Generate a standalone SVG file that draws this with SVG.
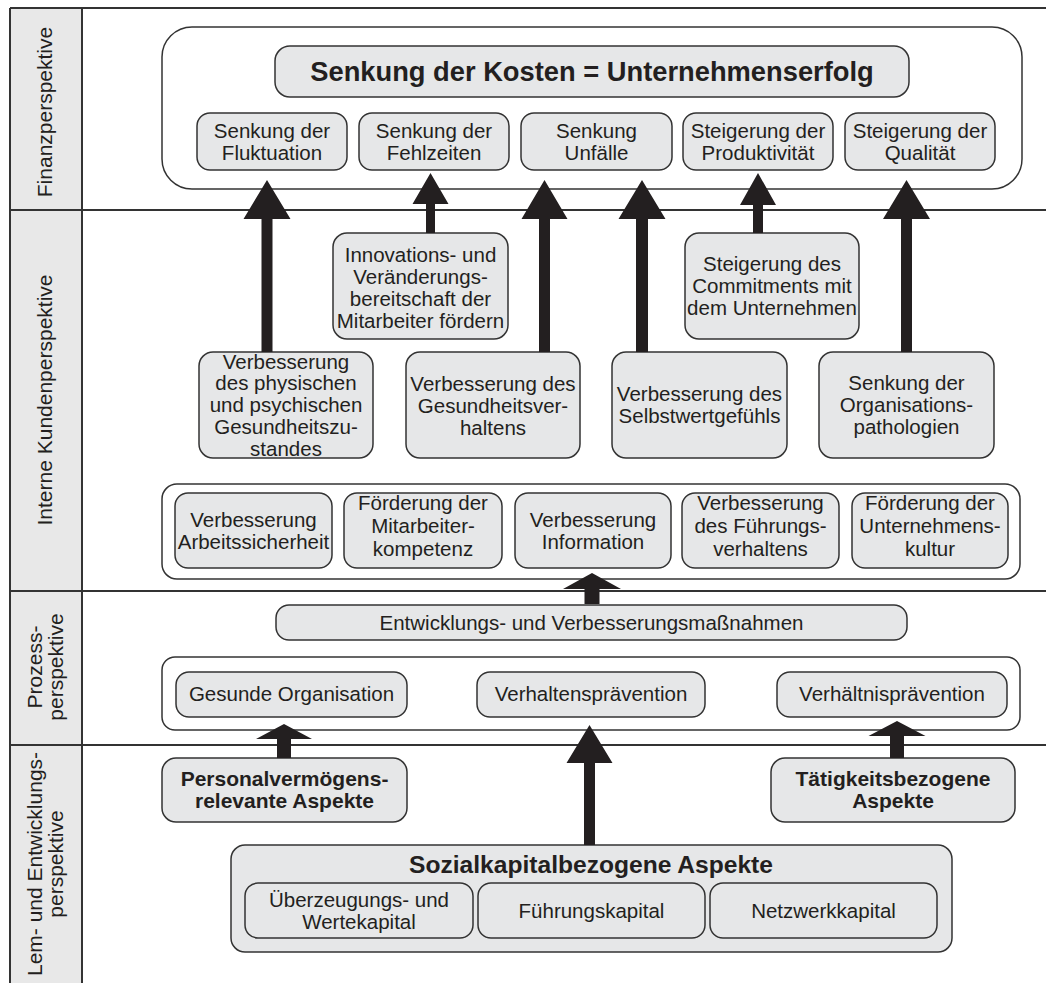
<svg xmlns="http://www.w3.org/2000/svg" width="1046" height="983" viewBox="0 0 1046 983">
<style>
  text { font-family: "Liberation Sans", Arial, sans-serif; fill: #231f20; }
  .t { font-size: 20.5px; text-anchor: middle; }
  .b { font-size: 21px; font-weight: bold; text-anchor: middle; }
  .lbl { font-size: 21px; text-anchor: middle; }
  .box { fill: #e6e7e8; stroke: #333; stroke-width: 1.5; }
  .cont { fill: #fff; stroke: #333; stroke-width: 1.5; }
  .band { stroke: #333; stroke-width: 2; fill: none; }
  .arrow { fill: #231f20; stroke: none; }
</style>
<rect x="0" y="0" width="1046" height="983" fill="#fff"/>
<g id="frame">
  <rect x="10" y="8" width="72" height="975" fill="#e8e8e8"/>
  <line class="band" x1="10" y1="8" x2="1046" y2="8"/>
  <line class="band" x1="10" y1="210" x2="1046" y2="210"/>
  <line class="band" x1="10" y1="591" x2="1046" y2="591"/>
  <line class="band" x1="10" y1="745" x2="1046" y2="745"/>
  <line class="band" x1="10" y1="8" x2="10" y2="983"/>
  <line class="band" x1="82" y1="8" x2="82" y2="983"/>
</g>
<g id="labels">
  <text class="lbl" transform="translate(52,112) rotate(-90)">Finanzperspektive</text>
  <text class="lbl" transform="translate(52,400) rotate(-90)">Interne Kundenperspektive</text>
  <text class="lbl" transform="translate(42,667) rotate(-90)">Prozess-</text>
  <text class="lbl" transform="translate(63,667) rotate(-90)">perspektive</text>
  <text class="lbl" transform="translate(42,864) rotate(-90)">Lem- und Entwicklungs-</text>
  <text class="lbl" transform="translate(63,864) rotate(-90)">perspektive</text>
</g>

<g id="finance-container"><rect class="cont" x="162" y="27" width="860" height="162" rx="30"/></g>
<g id="title"><rect class="box" x="275" y="46" width="634" height="51" rx="15"/>
  <text x="592" y="81" style="font-size:27.3px;font-weight:bold;text-anchor:middle">Senkung der Kosten = Unternehmenserfolg</text></g>
<g id="f1"><rect class="box" x="197" y="113" width="150" height="57" rx="13"/>
  <text class="t" x="272" y="138">Senkung der</text><text class="t" x="272" y="160">Fluktuation</text></g>
<g id="f2"><rect class="box" x="359" y="113" width="150" height="57" rx="13"/>
  <text class="t" x="434" y="138">Senkung der</text><text class="t" x="434" y="160">Fehlzeiten</text></g>
<g id="f3"><rect class="box" x="521" y="113" width="151" height="57" rx="13"/>
  <text class="t" x="596.5" y="138">Senkung</text><text class="t" x="596.5" y="160">Unfälle</text></g>
<g id="f4"><rect class="box" x="683" y="113" width="150" height="57" rx="13"/>
  <text class="t" x="758" y="138">Steigerung der</text><text class="t" x="758" y="160">Produktivität</text></g>
<g id="f5"><rect class="box" x="845" y="113" width="150" height="57" rx="13"/>
  <text class="t" x="920" y="138">Steigerung der</text><text class="t" x="920" y="160">Qualität</text></g>

<g id="innovation"><rect class="box" x="333" y="233" width="175" height="106" rx="14"/>
  <text class="t" x="420.5" y="262">Innovations- und</text>
  <text class="t" x="420.5" y="284">Veränderungs-</text>
  <text class="t" x="420.5" y="306">bereitschaft der</text>
  <text class="t" x="420.5" y="328">Mitarbeiter fördern</text></g>
<g id="commitment"><rect class="box" x="685" y="233" width="174" height="106" rx="14"/>
  <text class="t" x="772" y="271">Steigerung des</text>
  <text class="t" x="772" y="293">Commitments mit</text>
  <text class="t" x="772" y="315">dem Unternehmen</text></g>

<g id="physisch"><rect class="box" x="199" y="352" width="174" height="106" rx="14"/>
  <text class="t" x="286" y="368.5">Verbesserung</text>
  <text class="t" x="286" y="390.3">des physischen</text>
  <text class="t" x="286" y="412">und psychischen</text>
  <text class="t" x="286" y="433.8">Gesundheitszu-</text>
  <text class="t" x="286" y="455.5">standes</text></g>
<g id="gesundheitsverhalten"><rect class="box" x="406" y="352" width="174" height="106" rx="14"/>
  <text class="t" x="493" y="391">Verbesserung des</text>
  <text class="t" x="493" y="413">Gesundheitsver-</text>
  <text class="t" x="493" y="435">haltens</text></g>
<g id="selbstwert"><rect class="box" x="612" y="352" width="175" height="106" rx="14"/>
  <text class="t" x="699.5" y="401">Verbesserung des</text>
  <text class="t" x="699.5" y="423">Selbstwertgefühls</text></g>
<g id="organisation"><rect class="box" x="819" y="352" width="175" height="106" rx="14"/>
  <text class="t" x="906.5" y="390">Senkung der</text>
  <text class="t" x="906.5" y="412">Organisations-</text>
  <text class="t" x="906.5" y="434">pathologien</text></g>

<g id="measures-container"><rect class="cont" x="162" y="484" width="858" height="95" rx="15"/></g>
<g id="m1"><rect class="box" x="175" y="493" width="157" height="75" rx="13"/>
  <text class="t" x="253.5" y="527">Verbesserung</text><text class="t" x="253.5" y="548.5">Arbeitssicherheit</text></g>
<g id="m2"><rect class="box" x="344" y="493" width="158" height="75" rx="13"/>
  <text class="t" x="423" y="510">Förderung der</text><text class="t" x="423" y="533">Mitarbeiter-</text><text class="t" x="423" y="556">kompetenz</text></g>
<g id="m3"><rect class="box" x="515" y="493" width="156" height="75" rx="13"/>
  <text class="t" x="593" y="527">Verbesserung</text><text class="t" x="593" y="548.5">Information</text></g>
<g id="m4"><rect class="box" x="682" y="493" width="157" height="75" rx="13"/>
  <text class="t" x="760.5" y="510">Verbesserung</text><text class="t" x="760.5" y="533">des Führungs-</text><text class="t" x="760.5" y="556">verhaltens</text></g>
<g id="m5"><rect class="box" x="852" y="493" width="156" height="75" rx="13"/>
  <text class="t" x="930" y="510">Förderung der</text><text class="t" x="930" y="533">Unternehmens-</text><text class="t" x="930" y="556">kultur</text></g>

<g id="entwicklung"><rect class="box" x="276" y="605" width="631" height="35" rx="13"/>
  <text class="t" x="591.5" y="630">Entwicklungs- und Verbesserungsmaßnahmen</text></g>
<g id="prevention-container"><rect class="cont" x="162" y="657" width="858" height="73" rx="13"/></g>
<g id="p1"><rect class="box" x="176" y="672" width="231" height="45" rx="13"/>
  <text class="t" x="291.5" y="701">Gesunde Organisation</text></g>
<g id="p2"><rect class="box" x="477" y="672" width="228" height="45" rx="13"/>
  <text class="t" x="591" y="701">Verhaltensprävention</text></g>
<g id="p3"><rect class="box" x="777" y="672" width="230" height="45" rx="13"/>
  <text class="t" x="892" y="701">Verhältnisprävention</text></g>

<g id="personal"><rect class="box" x="162" y="758" width="245" height="64" rx="14"/>
  <text class="b" x="284.5" y="786">Personalvermögens-</text><text class="b" x="284.5" y="808">relevante Aspekte</text></g>
<g id="taetigkeit"><rect class="box" x="771" y="758" width="244" height="64" rx="14"/>
  <text class="b" x="893" y="786">Tätigkeitsbezogene</text><text class="b" x="893" y="808">Aspekte</text></g>
<g id="sozialkapital"><rect class="box" x="231" y="845" width="721" height="107" rx="14"/>
  <text x="591" y="873" style="font-size:24.6px;font-weight:bold;text-anchor:middle">Sozialkapitalbezogene Aspekte</text>
  <rect class="box" x="245" y="883" width="228" height="55" rx="13"/>
  <text class="t" x="359" y="906.5">Überzeugungs- und</text><text class="t" x="359" y="928.5">Wertekapital</text>
  <rect class="box" x="478" y="883" width="227" height="55" rx="13"/>
  <text class="t" x="591.5" y="917.5">Führungskapital</text>
  <rect class="box" x="710" y="883" width="227" height="55" rx="13"/>
  <text class="t" x="823.5" y="917.5">Netzwerkkapital</text></g>

<g id="connectors">
  <polygon class="arrow" points="267,180 290.5,219 272.5,219 272.5,352 261.5,352 261.5,219 243.5,219"/>
  <polygon class="arrow" points="430.5,173 448.5,204 435,204 435,233 426,233 426,204 412.5,204"/>
  <polygon class="arrow" points="544.5,180 567.5,219 550,219 550,352 539,352 539,219 521.5,219"/>
  <polygon class="arrow" points="642,180 665.5,219 648,219 648,352 636,352 636,219 618.5,219"/>
  <polygon class="arrow" points="758,173 776,205 763,205 763,233 753,233 753,205 740,205"/>
  <polygon class="arrow" points="906.5,180 930,219 912,219 912,352 901,352 901,219 883,219"/>
  <polygon class="arrow" points="592,573 621,589 599.5,589 599.5,604 584.5,604 584.5,589 563,589"/>
  <polygon class="arrow" points="284,724 312,739 291,739 291,758 277,758 277,739 256,739"/>
  <polygon class="arrow" points="589.5,725 612.5,763 595,763 595,845 584,845 584,763 566.5,763"/>
  <polygon class="arrow" points="897,721 925.5,736 904,736 904,758 890,758 890,736 868.5,736"/>
</g>
</svg>
